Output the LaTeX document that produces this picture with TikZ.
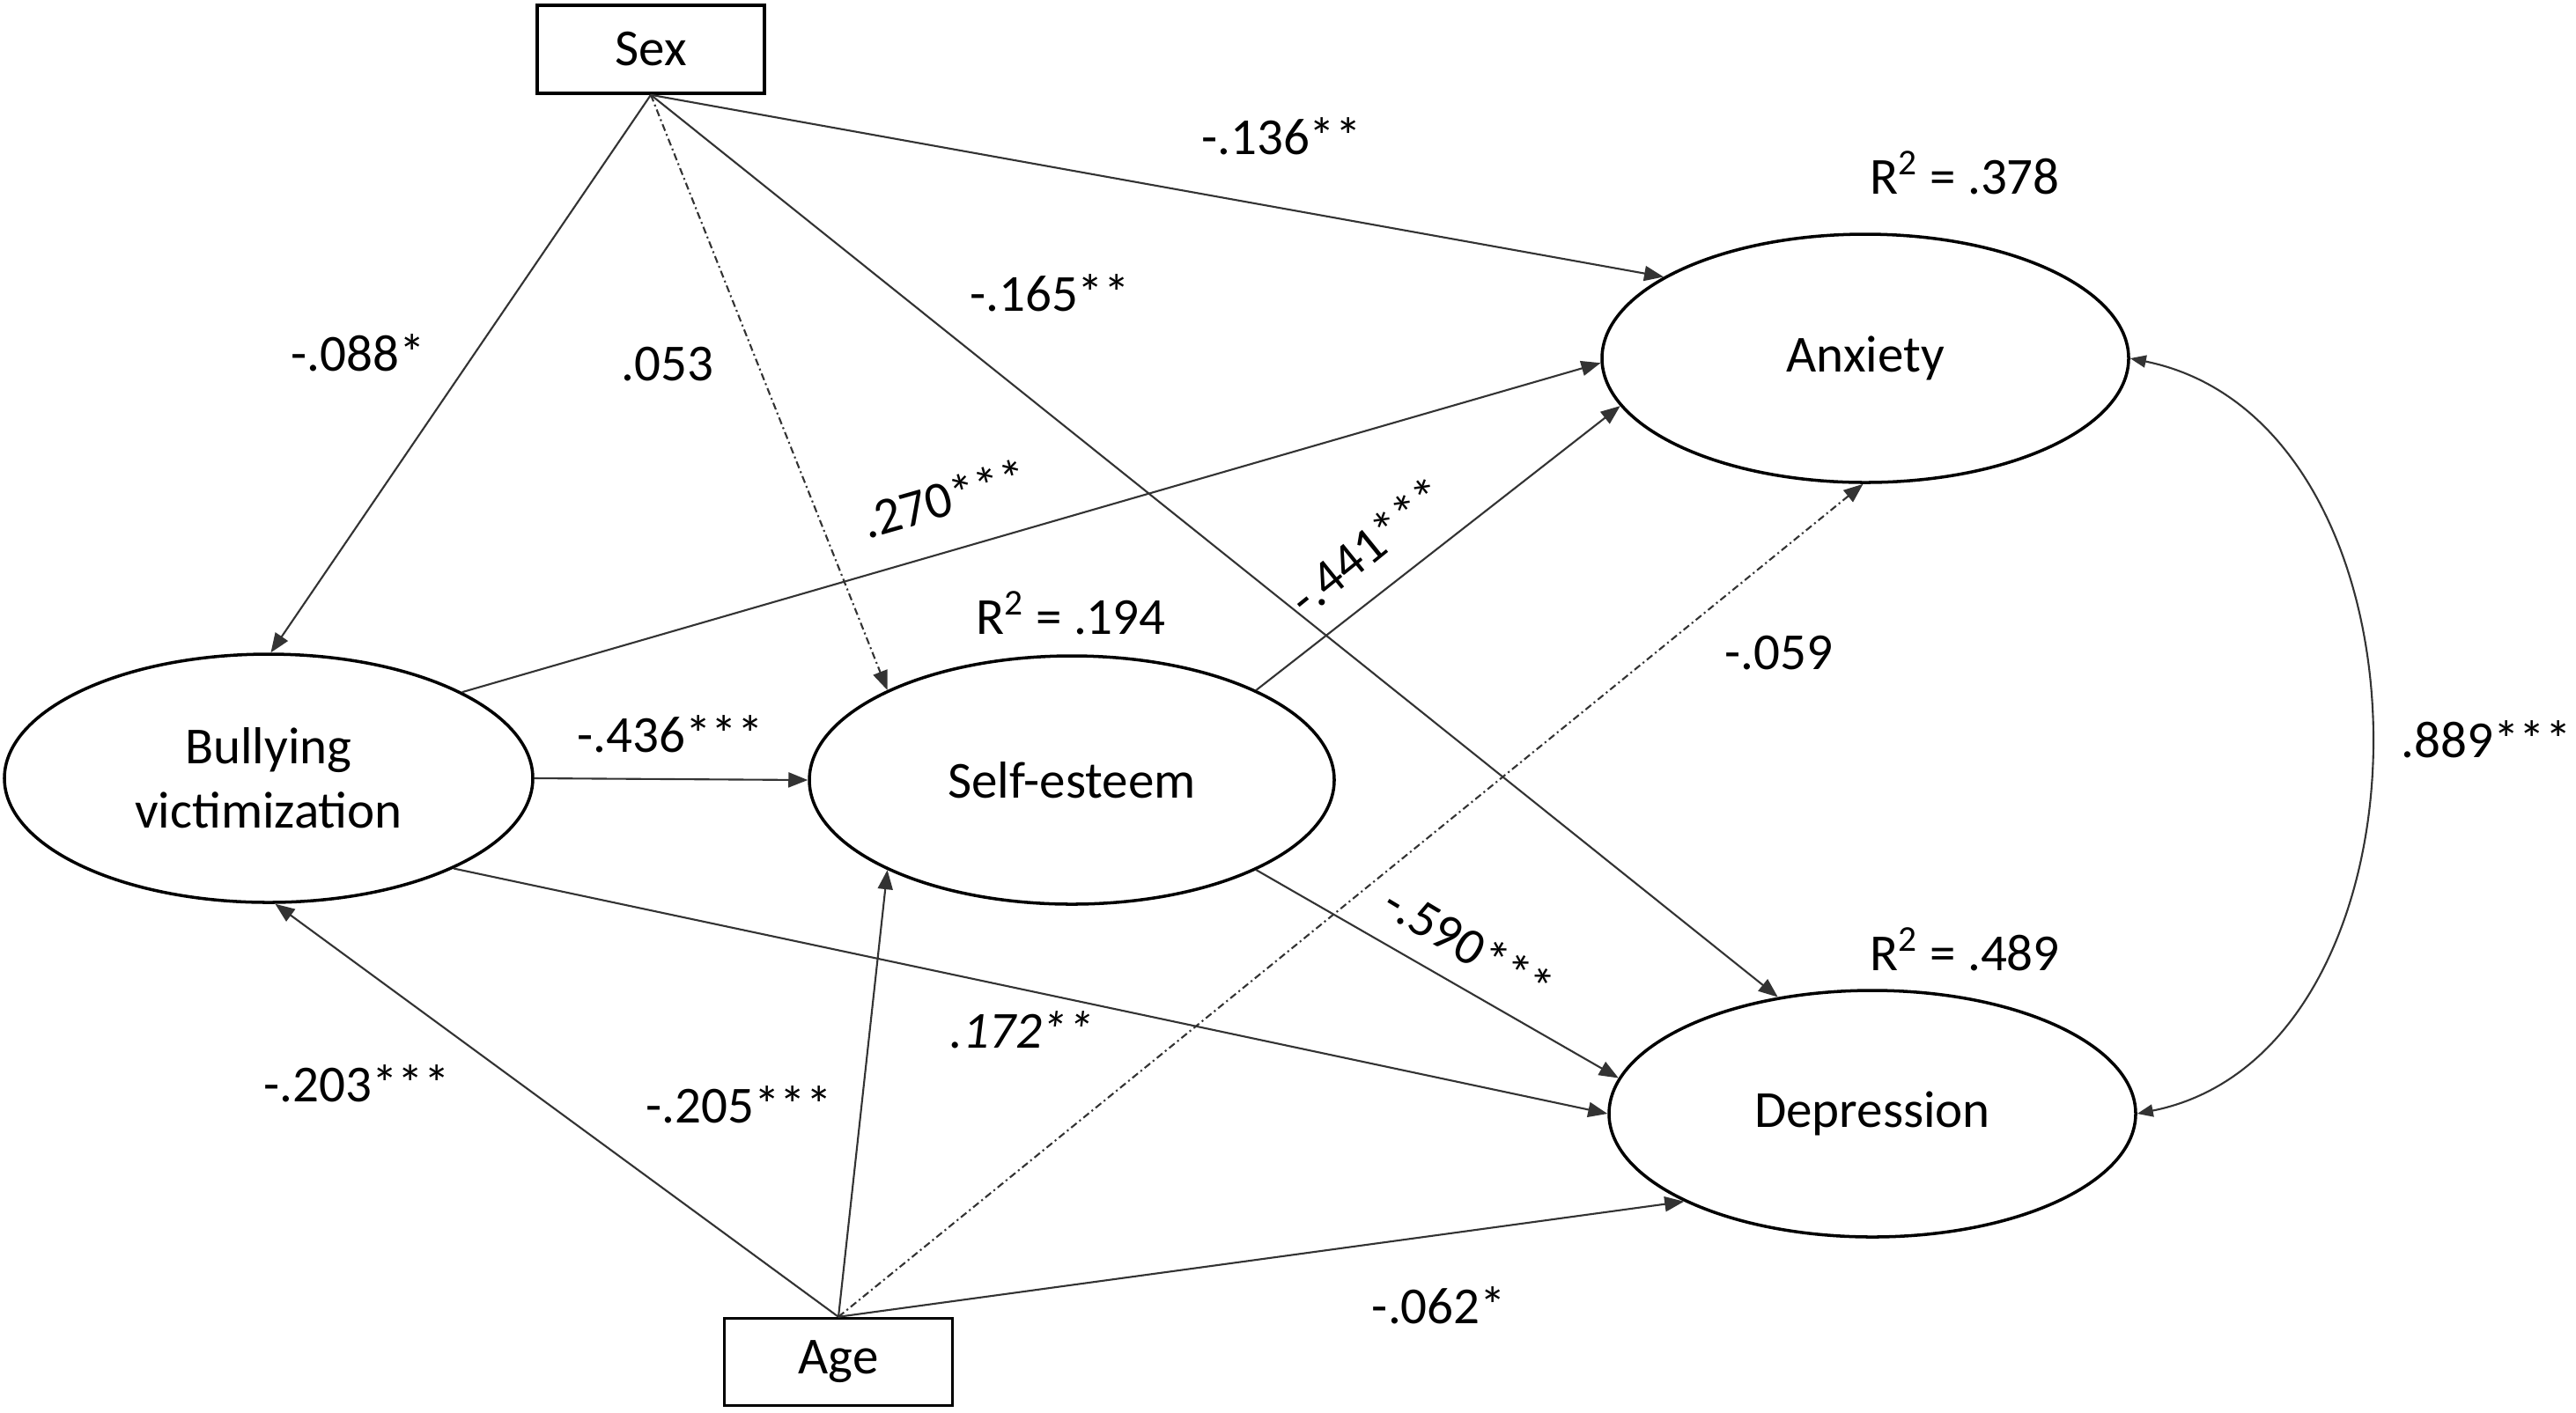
\documentclass[tikz,border=0pt]{standalone}
\usepackage{fontspec}
\setmainfont{Carlito}
\usetikzlibrary{arrows.meta,shapes.geometric}
\begin{document}
\begin{tikzpicture}[x=1cm,y=1cm,
  every node/.style={font=\fontsize{16.8}{20.8}\selectfont},
  lat/.style={ellipse, draw, line width=1pt, minimum width=5.98cm, minimum height=2.82cm, inner sep=0pt, align=center},
  obs/.style={rectangle, draw, line width=1pt, minimum width=2.58cm, minimum height=1.0cm, inner sep=0pt},
  arr/.style={draw=black!80, line width=0.6pt, -{Triangle[length=0.22cm,width=0.17cm]}},
  ns/.style={arr, dash pattern=on 2.3pt off 1.1pt on 0.6pt off 1.1pt},
  cov/.style={draw=black!80, line width=0.6pt, {Triangle[length=0.18cm,width=0.14cm]}-{Triangle[length=0.18cm,width=0.14cm]}},
  lab/.style={inner sep=0pt}
]
\useasboundingbox (0,0) rectangle (29.25,-16.04);
\fill[white] (0,0) rectangle (29.25,-16.04);

% nodes
\node[obs] (sex) at (7.39,-0.56) {Sex};
\node[obs, minimum width=2.59cm, minimum height=0.99cm] (age) at (9.52,-15.47) {Age};
\node[lat, minimum width=6.0cm] (bully) at (3.05,-8.84) {Bullying\\victimization};
\node[lat, minimum width=5.96cm] (self) at (12.17,-8.86) {Self-esteem};
\node[lat] (anx) at (21.18,-4.07) {Anxiety};
\node[lat, minimum height=2.80cm] (dep) at (21.26,-12.65) {Depression};

% paths from Sex
\draw[arr] (sex.south) -- (bully.89);
\draw[ns]  (sex.south) -- (self.154);
\draw[arr] (sex.south) -- (anx.158);
\draw[arr] (sex.south) -- (dep.129);

% paths from Bullying
\draw[arr] (bully.24) -- (anx.181);
\draw[arr] (bully.east) -- (self.west);
\draw[arr] (bully.334) -- (dep.180);

% paths from Self-esteem
\draw[arr] (self.26) -- (anx.191);
\draw[arr] (self.334) -- (dep.172);

% paths from Age
\draw[arr] (age.north) -- (bully.273);
\draw[arr] (age.north) -- (self.206);
\draw[ns]  (age.north) -- (anx.269);
\draw[arr] (age.north) -- (dep.205);

% covariance
\draw[cov] (anx.east) .. controls (27.80,-4.80) and (27.80,-11.95) .. (dep.east);

% labels
\node[lab] (l136) at (14.55,-1.55) {-.136**};
\node[lab] (l088) at (4.07,-4.01) {-.088*};
\node[lab] (l053) at (7.58,-4.14) {.053};
\node[lab] (l165) at (11.92,-3.33) {-.165**};
\node[lab, rotate=16] (l270) at (10.72,-5.66) {.270***};
\node[lab] (l436) at (7.61,-8.34) {-.436***};
\node[lab] (l172) at (11.60,-11.70) {\itshape .172**};
\node[lab, rotate=39] (l441) at (15.52,-6.20) {-.441***};
\node[lab, rotate=-31] (l590) at (16.68,-10.73) {-.590***};
\node[lab] (l203) at (4.05,-12.31) {-.203***};
\node[lab] (l205) at (8.39,-12.55) {-.205***};
\node[lab] (l059) at (20.20,-7.42) {-.059};
\node[lab] (l062) at (16.34,-14.83) {-.062*};
\node[lab] (l889) at (28.23,-8.40) {.889***};
\node[lab] (r378) at (22.31,-1.96) {R\textsuperscript{2} = .378};
\node[lab] (r194) at (12.16,-6.96) {R\textsuperscript{2} = .194};
\node[lab] (r489) at (22.31,-10.78) {R\textsuperscript{2} = .489};
\end{tikzpicture}
\end{document}
